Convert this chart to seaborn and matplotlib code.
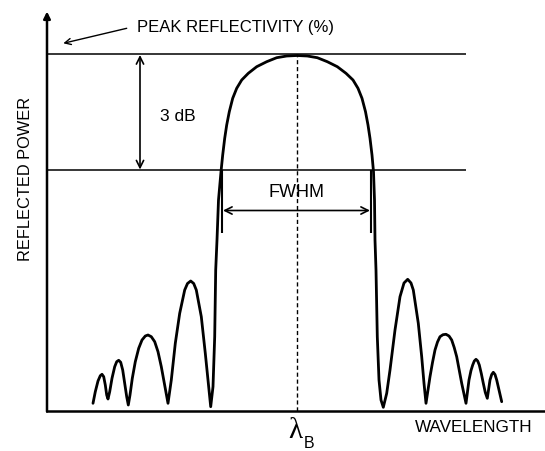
import numpy as np
import pandas as pd
import matplotlib
matplotlib.use('Agg')
import matplotlib.pyplot as plt
import seaborn as sns

# reflection spectrum (wavelength offset from lambda_B, power in arbitrary units)
wavelength = [
    # left side lobes
    -204, -201.7, -199, -196.7, -195, -193.3, -191.7, -190.3, -189,
    -187.3, -185, -182.3, -180.3, -178.3, -176.3, -174.3, -172.3, -170.3, -168.7,
    -167, -164.7, -161.7, -158.3, -155, -151.7, -149, -145.7, -142.3, -139, -135.7, -132.3, -129,
    -125.7, -121.7, -117.3, -112.3, -109.5, -106.3, -103.3, -100.7, -95.7, -91.7, -88.3, -86.3,
    # main lobe
    -84, -82.3, -81.3, -80, -78.5, -76, -74.3, -72.3, -70.3, -67.7, -64.3, -60.3, -55.3,
    -48.7, -40.3, -30.3, -20.3, -10.3, 0,
    10.3, 20.3, 30.3, 40.3, 49, 56, 61, 65, 68.5, 71, 73, 75, 76.5, 77.5, 78, 79,
    80.3, 82, 84, 86.3,
    # right side lobes
    89.7, 93, 98, 103, 107, 110.7, 114, 116.3, 121.3, 124.7, 127, 129,
    133, 135.5, 138, 140.5, 143, 146, 149, 152, 154.7, 157.2, 159.7, 162.2, 164.7, 169,
    172, 174, 175.7, 177.3, 179, 180.7, 182.3, 184.3, 186.3, 188.3, 190.3,
    191.7, 193, 194.7, 196.3, 198, 199.7, 202.2, 204.7,
]
power = [
    7.2, 18.8, 29.5, 34.8, 36.2, 33.8, 25.5, 15.5, 11.5,
    18.8, 32.2, 43.8, 48.8, 50.2, 48.2, 40.5, 27.2, 13.8, 5.5,
    15.5, 32.2, 48.8, 62.2, 70.5, 74.5, 75.5, 73.8, 68.8, 58.8, 43.8, 25.5, 7.2,
    30.5, 67.2, 97.2, 120.5, 127, 129.5, 127, 120.5, 93.8, 57.2, 23.8, 3.8,
    23.8, 73.8, 140.5, 170.5, 210.5, 238.8, 255.5, 272.2, 285.5, 298.8, 312.2, 322.2, 330.5,
    337.2, 343.8, 348.8, 352.8, 354.5, 355,
    354.5, 352.8, 348.8, 343.8, 337.2, 330.5, 322.2, 312.2, 298.8, 285.5, 272.2, 255.5, 238.8, 210.5, 170.5, 140.5,
    73.8, 30.5, 10.5, 3.2,
    17.2, 40.5, 80.5, 113.8, 127.5, 131.2, 127.5, 120.5, 87.2, 53.8, 27.2, 7.2,
    33.8, 48, 60.5, 68.5, 73.8, 75.8, 76.2, 74.5, 70.5, 63, 53.8, 40.5, 27.2, 7.2,
    30.5, 40, 45.5, 49.5, 51.2, 49.5, 45.5, 37, 27.2, 18, 12.2,
    22, 30.5, 36, 38.2, 36, 30.5, 19.5, 8.8,
]

peak_level = 356.5
half_level = 240
fwhm_edges = [-75.3, 74]

df = pd.DataFrame({'wavelength': wavelength, 'power': power})

sns.set_theme(style='white')
plt.rcParams['font.family'] = ['Liberation Sans', 'DejaVu Sans']

fig = plt.figure(figsize=(5.45, 4.51), dpi=100)
ax = fig.add_axes([47 / 545, 40.5 / 451, 498 / 545, 400.5 / 451])

sns.lineplot(data=df, x='wavelength', y='power', sort=False, color='black',
             linewidth=2.0, ax=ax, solid_joinstyle='round', solid_capstyle='round')

# reference levels
ax.hlines([peak_level, half_level], -250, 169, color='black', linewidth=1.1)
ax.vlines(0, 0, peak_level, color='black', linewidth=1.0, linestyles=(0, (3, 2)))

# 3 dB arrow
ax.annotate('', xy=(-157, peak_level - 1), xytext=(-157, half_level + 1),
            arrowprops=dict(arrowstyle='<->', lw=1.2, color='black', mutation_scale=13,
                            shrinkA=0, shrinkB=0))
ax.text(-118.7, 294, '3 dB', ha='center', va='center', fontsize=12.5, color='black')

# FWHM marker
ax.vlines(fwhm_edges, 177.5, half_level, color='black', linewidth=1.5)
ax.annotate('', xy=(-74, 200), xytext=(73, 200),
            arrowprops=dict(arrowstyle='<->', lw=1.2, color='black', mutation_scale=13,
                            shrinkA=0, shrinkB=0))
ax.text(0, 217.5, 'FWHM', ha='center', va='center', fontsize=13, color='black')

# peak reflectivity pointer
ax.text(-160.3, 383, 'PEAK REFLECTIVITY (%)', ha='left', va='center', fontsize=12, color='black')
ax.annotate('', xy=(-233.7, 367.2), xytext=(-170.3, 382.2),
            arrowprops=dict(arrowstyle='->', lw=1.0, color='black', mutation_scale=11,
                            shrinkA=0, shrinkB=0))

# axis labels
ax.text(-271, 231.5, 'REFLECTED POWER', rotation=90, ha='center', va='center',
        fontsize=11.8, color='black', clip_on=False)
ax.text(118, -17.5, 'WAVELENGTH', ha='left', va='center', fontsize=12.3, color='black',
        clip_on=False)
ax.text(-1.5, -20, '\u03bb', ha='center', va='center', fontsize=21,
        family=['Liberation Serif', 'DejaVu Serif'], color='black', clip_on=False)
ax.text(12, -32.5, 'B', ha='center', va='center', fontsize=11.5, color='black', clip_on=False)

ax.set_xlim(-250, 248)
ax.set_ylim(0, 400.5)
ax.set_xticks([])
ax.set_yticks([])
ax.set_xlabel('')
ax.set_ylabel('')
for side in ['top', 'right', 'left']:
    ax.spines[side].set_visible(False)
ax.spines['bottom'].set_color('black')
ax.spines['bottom'].set_linewidth(1.8)

# vertical axis with arrow head
ax.annotate('', xy=(-250, 399), xytext=(-250, -1), annotation_clip=False,
            arrowprops=dict(arrowstyle='-|>', lw=1.8, color='black', mutation_scale=10,
                            shrinkA=0, shrinkB=0))

fig.savefig('out.png', dpi=100, facecolor='white')
